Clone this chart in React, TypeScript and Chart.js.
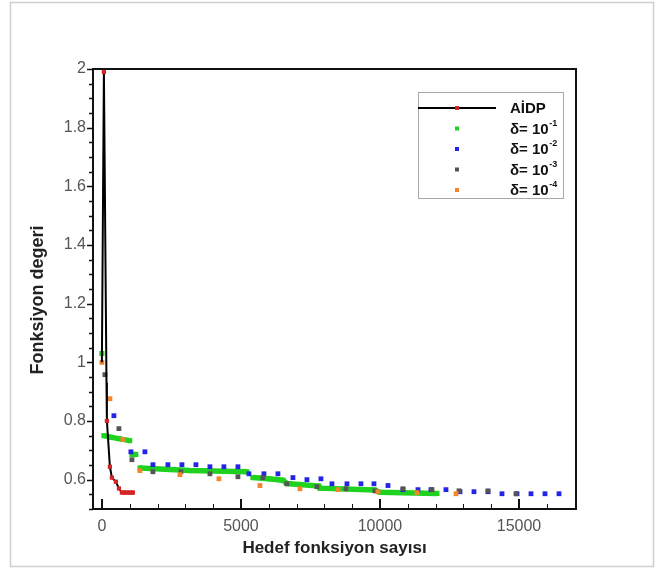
import { useEffect, useRef } from 'react';
import { Chart, registerables } from 'chart.js';

Chart.register(...registerables);

// ---------- data ----------
const aidpX = [0, 72, 165, 180, 288, 360, 504, 612, 720, 790, 860, 930, 1000, 1070, 1115];
const aidpY = [1.0, 1.99, 0.93, 0.8, 0.644, 0.607, 0.593, 0.57, 0.556, 0.556, 0.556, 0.556, 0.556, 0.556, 0.556];

// delta = 1e-1 (dense, drawn as a thick band; null = gap)
const d1X = [0, 40, 72, 300, 600, 1000, 1040, 1080, 1220, 1300, 1370, 3165, 5215, 5300, 5430, 6000, 6510, 6650, 7800, 7840, 9800, 10000, 12050];
const d1Y = [1.03, null, 0.75, 0.745, 0.74, 0.733, null, 0.686, 0.686, null, 0.64, 0.631, 0.627, null, 0.607, 0.603, 0.598, 0.587, 0.578, 0.571, 0.565, 0.557, 0.553];

// delta = 1e-2
const d2X = [432, 1043, 1547, 1835, 2374, 2878, 3381, 3885, 4388, 4892, 5288, 5827, 6331, 6870, 7374, 7877, 8273, 8813, 9316, 9784, 10288, 10827, 11367, 11834, 12374, 12878, 13381, 13885, 14388, 14928, 15432, 15935, 16439];
const d2Y = [0.818, 0.695, 0.695, 0.651, 0.651, 0.651, 0.651, 0.644, 0.644, 0.644, 0.62, 0.62, 0.62, 0.607, 0.6, 0.603, 0.586, 0.586, 0.586, 0.586, 0.58, 0.566, 0.566, 0.566, 0.566, 0.559, 0.559, 0.559, 0.552, 0.552, 0.552, 0.552, 0.552];

// delta = 1e-3
const d3X = [108, 612, 1080, 1835, 2842, 3885, 4892, 5790, 6650, 7734, 8777, 9820, 10827, 11870, 12842, 13885, 14892];
const d3Y = [0.958, 0.774, 0.668, 0.627, 0.627, 0.62, 0.61, 0.607, 0.586, 0.576, 0.569, 0.562, 0.569, 0.566, 0.562, 0.562, 0.552];

// delta = 1e-4
const d4X = [0, 288, 756, 1367, 2806, 4208, 5683, 7122, 8489, 9928, 11330, 12734];
const d4Y = [1.0, 0.876, 0.737, 0.631, 0.617, 0.603, 0.58, 0.569, 0.566, 0.559, 0.556, 0.552];

const xTicks = [0, 5000, 10000, 15000];
const xMinor = [1000, 2000, 3000, 4000, 6000, 7000, 8000, 9000, 11000, 12000, 13000, 14000, 16000, 17000];
const yTicks = [0.6, 0.8, 1, 1.2, 1.4, 1.6, 1.8, 2];
const yMinor = [0.5, 0.55, 0.65, 0.7, 0.75, 0.85, 0.9, 0.95, 1.05, 1.1, 1.15, 1.25, 1.3, 1.35, 1.45, 1.5, 1.55, 1.65, 1.7, 1.75, 1.85, 1.9, 1.95];

const legendLabels = ['AİDP', 'δ= 10', 'δ= 10', 'δ= 10', 'δ= 10'];
const legendSup = ['', '-1', '-2', '-3', '-4'];

const xTitle = 'Hedef fonksiyon sayısı';
const yTitle = 'Fonksiyon degeri';

const RED = '#d42424';
const GREEN = '#1fd21f';
const BLUE = '#2424e6';
const GRAY = '#555555';
const ORANGE = '#f2862a';
const FONT = "'Liberation Sans', Arial, Helvetica, sans-serif";

const pts = (xs: number[], ys: (number | null)[]) => xs.map((x, i) => ({ x, y: ys[i] }));

const decor = {
  id: 'decor',
  afterDraw(chart: any) {
    const { ctx, chartArea: a, scales } = chart;
    const xs = scales.x;
    const ys = scales.y;
    ctx.save();
    // outer light border
    ctx.strokeStyle = '#cfcfcf';
    ctx.lineWidth = 1.5;
    ctx.strokeRect(10.5, 2.5, 643, 564);

    // frame
    ctx.strokeStyle = '#111';
    ctx.lineWidth = 2;
    ctx.strokeRect(a.left, a.top, a.right - a.left, a.bottom - a.top);

    // y ticks (outward)
    ctx.lineWidth = 1.5;
    ctx.beginPath();
    yTicks.forEach((v) => {
      const p = Math.round(ys.getPixelForValue(v)) + 0.5;
      ctx.moveTo(a.left - 6, p);
      ctx.lineTo(a.left, p);
    });
    yMinor.forEach((v) => {
      const p = Math.round(ys.getPixelForValue(v)) + 0.5;
      ctx.moveTo(a.left - 4, p);
      ctx.lineTo(a.left, p);
    });
    ctx.stroke();

    // x ticks (inward)
    ctx.beginPath();
    ctx.lineWidth = 2;
    xTicks.forEach((v) => {
      const p = Math.round(xs.getPixelForValue(v));
      ctx.moveTo(p, a.bottom);
      ctx.lineTo(p, a.bottom - 10);
    });
    ctx.stroke();
    ctx.beginPath();
    ctx.lineWidth = 1;
    xMinor.forEach((v) => {
      const p = Math.round(xs.getPixelForValue(v)) + 0.5;
      if (p <= a.left + 1 || p >= a.right - 1) return;
      ctx.moveTo(p, a.bottom);
      ctx.lineTo(p, a.bottom - 5);
    });
    ctx.stroke();

    // titles
    ctx.fillStyle = '#222';
    ctx.font = `bold 17px ${FONT}`;
    ctx.textAlign = 'center';
    ctx.textBaseline = 'middle';
    ctx.fillText(xTitle, (a.left + a.right) / 2, 548);
    ctx.save();
    ctx.translate(38, 300);
    ctx.rotate(-Math.PI / 2);
    ctx.font = `bold 18px ${FONT}`;
    ctx.fillText(yTitle, 0, 0);
    ctx.restore();

    // legend
    const lx = 418, ly = 92, lw = 145, lh = 106;
    ctx.fillStyle = '#fff';
    ctx.fillRect(lx, ly, lw, lh);
    ctx.strokeStyle = '#a8a8a8';
    ctx.lineWidth = 1;
    ctx.strokeRect(lx + 0.5, ly + 0.5, lw, lh);
    const rowY = [108, 128.5, 149, 169.5, 190];
    const colors = [RED, GREEN, BLUE, GRAY, ORANGE];
    rowY.forEach((yy, i) => {
      if (i === 0) {
        ctx.strokeStyle = '#000';
        ctx.lineWidth = 2;
        ctx.beginPath();
        ctx.moveTo(lx, yy);
        ctx.lineTo(496, yy);
        ctx.stroke();
      }
      ctx.fillStyle = colors[i];
      ctx.fillRect(455, yy - 2, 4, 4);
      ctx.fillStyle = '#111';
      ctx.font = `bold 15px ${FONT}`;
      ctx.textAlign = 'left';
      ctx.textBaseline = 'middle';
      ctx.fillText(legendLabels[i], 510, yy + 1);
      if (legendSup[i]) {
        const w = ctx.measureText(legendLabels[i]).width;
        ctx.font = `bold 9px ${FONT}`;
        ctx.fillText(legendSup[i], 510 + w + 0.5, yy - 5);
      }
    });
    ctx.restore();
  },
};

export default function App() {
  const ref = useRef<HTMLCanvasElement | null>(null);
  useEffect(() => {
    if (!ref.current) return;
    const chart = new Chart(ref.current, {
      type: 'line',
      data: {
        datasets: [
          {
            label: 'AİDP',
            data: pts(aidpX, aidpY),
            borderColor: '#000',
            borderWidth: 2,
            pointStyle: 'rect',
            pointRadius: (c: any) => (c.raw && c.raw.y > 0.9 && c.raw.y < 1.9 ? 0 : 3),
            pointBackgroundColor: RED,
            pointBorderWidth: 0,
            tension: 0,
          },
          {
            label: 'δ= 10-4',
            data: pts(d4X, d4Y),
            showLine: false,
            pointStyle: 'rect',
            pointRadius: 3.4,
            pointBackgroundColor: ORANGE,
            pointBorderWidth: 0,
          },
          {
            label: 'δ= 10-3',
            data: pts(d3X, d3Y),
            showLine: false,
            pointStyle: 'rect',
            pointRadius: 3.4,
            pointBackgroundColor: GRAY,
            pointBorderWidth: 0,
          },
          {
            label: 'δ= 10-2',
            data: pts(d2X, d2Y),
            showLine: false,
            pointStyle: 'rect',
            pointRadius: 3.4,
            pointBackgroundColor: BLUE,
            pointBorderWidth: 0,
          },
          {
            label: 'δ= 10-1',
            data: pts(d1X, d1Y),
            borderColor: GREEN,
            borderWidth: 5.5,
            spanGaps: false,
            pointStyle: 'rect',
            pointRadius: 3.6,
            pointBackgroundColor: GREEN,
            pointBorderWidth: 0,
            tension: 0,
          },
        ],
      },
      options: {
        responsive: false,
        animation: false,
        parsing: true,
        layout: { padding: { left: 0, top: 69, right: 84, bottom: 0 } },
        plugins: { legend: { display: false }, tooltip: { enabled: false } },
        scales: {
          x: {
            type: 'linear',
            min: -320,
            max: 17050,
            grid: { display: false, drawTicks: false },
            border: { display: false },
            afterFit: (s: any) => { s.height = 64; },
            afterBuildTicks: (s: any) => { s.ticks = xTicks.map((value) => ({ value })); },
            ticks: {
              padding: 8,
              color: '#555',
              font: { family: FONT, size: 16 },
              callback: (v: any) => String(v),
              maxRotation: 0,
            },
          },
          y: {
            type: 'linear',
            min: 0.5,
            max: 2,
            grid: { display: false, drawTicks: false },
            border: { display: false },
            afterFit: (s: any) => { s.width = 93; },
            afterBuildTicks: (s: any) => { s.ticks = yTicks.map((value) => ({ value })); },
            ticks: {
              padding: 7,
              color: '#555',
              font: { family: FONT, size: 16 },
              callback: (v: any) => String(v),
            },
          },
        },
      },
      plugins: [decor],
    } as any);
    return () => chart.destroy();
  }, []);
  return (
    <div style={{ position: 'fixed', left: 0, top: 0, width: 660, height: 573, background: '#fff' }}>
      <canvas ref={ref} width={660} height={573} />
    </div>
  );
}
